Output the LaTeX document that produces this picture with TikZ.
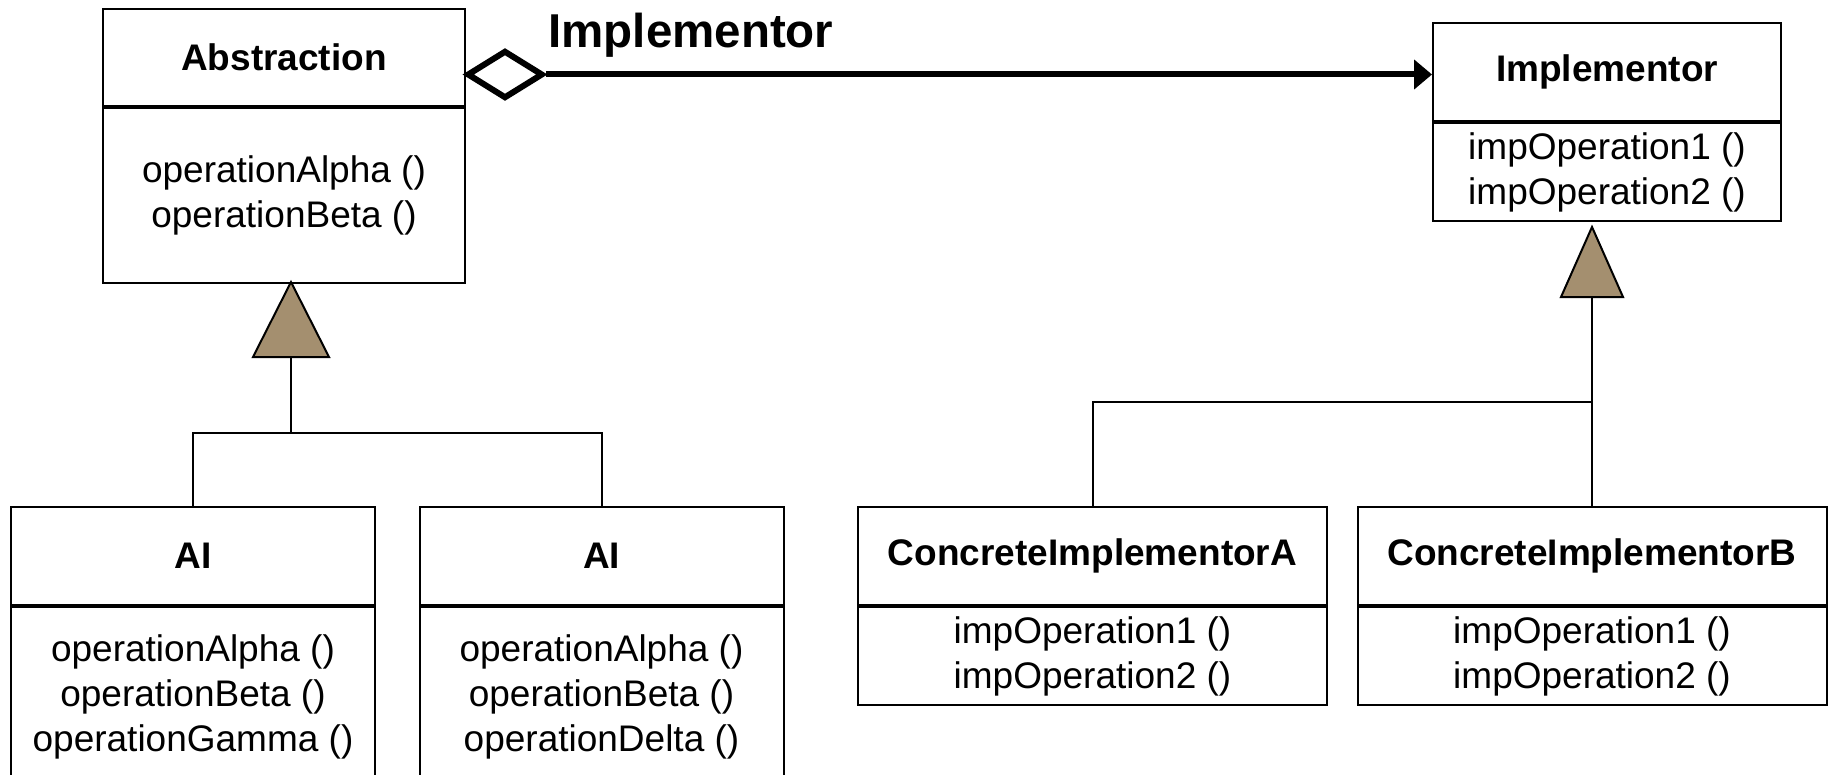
\documentclass[tikz,border=0pt]{standalone}
\usepackage{fontspec}
\setmainfont{Liberation Sans}
\usetikzlibrary{arrows.meta, shapes.geometric, positioning, calc}
\definecolor{inhfill}{RGB}{164,143,111}

\begin{document}
\begin{tikzpicture}[
  x=0.5pt, y=-0.5pt,
  every node/.style={font=\fontsize{18.5}{22.5}\selectfont},
  title/.style={rectangle, draw, line width=1pt, align=center, inner sep=0pt,
                font=\fontsize{18.5}{22.5}\selectfont\bfseries},
  ops/.style={rectangle, draw, line width=1pt, align=center, inner sep=0pt},
  link/.style={line width=1pt},
  inh/.style={draw, line width=1pt, fill=inhfill, line join=miter},
  agg/.style={diamond, draw, line width=3pt, fill=white, inner sep=0pt,
              minimum width=38pt, minimum height=24pt},
  assoc/.style={line width=3pt, -{Triangle[length=9pt, width=14.5pt]}},
  lbl/.style={font=\fontsize{23.75}{28}\selectfont\bfseries, inner sep=0pt},
]
\useasboundingbox (0,0) rectangle (1835,775);
\clip (0,0) rectangle (1835,775);

% Abstraction side
\node[title, minimum width=181pt, minimum height=48.5pt] (absTitle) at (284,57.5) {Abstraction};
\node[ops, minimum width=181pt, minimum height=87.5pt, below=0pt of absTitle] (absOps)
  {operationAlpha ()\\operationBeta ()};

\node[title, minimum width=182pt, minimum height=49pt] (ai1Title) at (193,556) {AI};
\node[ops, minimum width=182pt, minimum height=90pt, below=0pt of ai1Title] (ai1Ops)
  {operationAlpha ()\\operationBeta ()\\operationGamma ()};
\node[title, minimum width=182pt, minimum height=49pt] (ai2Title) at (601.5,556) {AI};
\node[ops, minimum width=182pt, minimum height=90pt, below=0pt of ai2Title] (ai2Ops)
  {operationAlpha ()\\operationBeta ()\\operationDelta ()};

% Implementor side
\node[title, minimum width=174pt, minimum height=49pt] (impTitle) at (1607,72) {Implementor};
\node[ops, minimum width=174pt, minimum height=49pt, below=0pt of impTitle] (impOps)
  {impOperation1 ()\\impOperation2 ()};

\node[title, minimum width=234.5pt, minimum height=49pt] (ciaTitle) at (1092.5,556) {ConcreteImplementorA};
\node[ops, minimum width=234.5pt, minimum height=49pt, below=0pt of ciaTitle] (ciaOps)
  {impOperation1 ()\\impOperation2 ()};
\node[title, minimum width=234.5pt, minimum height=49pt] (cibTitle) at (1592,556) {ConcreteImplementorB};
\node[ops, minimum width=234.5pt, minimum height=49pt, below=0pt of cibTitle] (cibOps)
  {impOperation1 ()\\impOperation2 ()};

% inheritance
\coordinate (absTip) at ($(absOps.south)+(7,-2)$);
\coordinate (absBase) at ($(absTip)+(0,75)$);
\coordinate (absBar) at ($(absTip)+(0,151)$);
\draw[inh] (absTip) -- ++(38,75) -- ++(-76,0) -- cycle;
\draw[link] (absBase) -- (absBar);
\draw[link] (ai1Title.north) |- (absBar) -| (ai2Title.north);

\coordinate (impTip) at ($(impOps.south)+(-15,5)$);
\coordinate (impBase) at ($(impTip)+(0,70)$);
\coordinate (impBar) at ($(impTip)+(0,175)$);
\draw[inh] (impTip) -- ++(31,70) -- ++(-62,0) -- cycle;
\draw[link] (impBase) -- (cibTitle.north);
\draw[link] (ciaTitle.north) |- (impBar);

% aggregation
\node[agg] (agg) at (505,74.5) {};
\draw[assoc] (agg.east) -- (impTitle.west |- agg.east);
\node[lbl, anchor=base west] (aggLbl) at (548,48) {Implementor};
\end{tikzpicture}
\end{document}
